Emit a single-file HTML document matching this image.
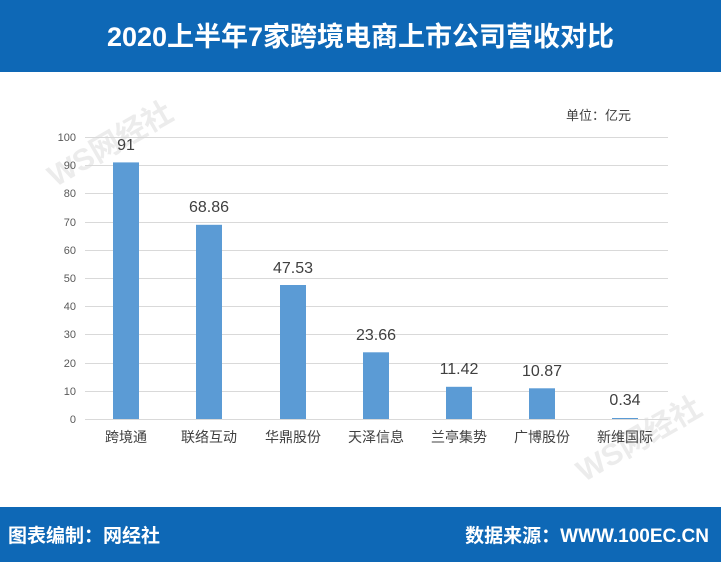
<!DOCTYPE html>
<html><head><meta charset="utf-8"><style>
body{margin:0;width:721px;height:562px;overflow:hidden;background:#fff;font-family:"Liberation Sans","Noto Sans CJK SC",sans-serif;position:relative}
.top{position:absolute;left:0;top:0;width:721px;height:72px;background:#0e68b6;color:#fff;font-weight:bold;font-size:27px;text-align:center;line-height:74px}
.bot{position:absolute;left:0;top:507px;width:721px;height:55px;background:#0e68b6;color:#fff;font-weight:bold;font-size:19px}
</style></head><body>
<div class="top">2020上半年7家跨境电商上市公司营收对比</div>
<svg width="721" height="562" style="position:absolute;left:0;top:0">
<g fill="#ececec" font-weight="bold" font-size="30" transform="rotate(-30 80 150)"><text x="40" y="170">WS网经社</text></g>
<g fill="#ececec" font-weight="bold" font-size="30" transform="rotate(-30 600 450)"><text x="570" y="470">WS网经社</text></g>
<g stroke="#d9d9d9" stroke-width="1">
<line x1="85" x2="668" y1="137.5" y2="137.5"/><line x1="85" x2="668" y1="165.5" y2="165.5"/><line x1="85" x2="668" y1="193.5" y2="193.5"/><line x1="85" x2="668" y1="222.5" y2="222.5"/><line x1="85" x2="668" y1="250.5" y2="250.5"/><line x1="85" x2="668" y1="278.5" y2="278.5"/><line x1="85" x2="668" y1="306.5" y2="306.5"/><line x1="85" x2="668" y1="334.5" y2="334.5"/><line x1="85" x2="668" y1="363.5" y2="363.5"/><line x1="85" x2="668" y1="391.5" y2="391.5"/><line x1="85" x2="668" y1="419.5" y2="419.5"/>
</g>
<g font-size="11" fill="#595959" text-anchor="end">
<text x="76" y="141">100</text><text x="76" y="169">90</text><text x="76" y="197">80</text><text x="76" y="226">70</text><text x="76" y="254">60</text><text x="76" y="282">50</text><text x="76" y="310">40</text><text x="76" y="338">30</text><text x="76" y="367">20</text><text x="76" y="395">10</text><text x="76" y="423">0</text>
</g>
<g fill="#5b9bd5">
<rect x="113" y="162.4" width="26" height="256.6"/>
<rect x="196" y="224.8" width="26" height="194.2"/>
<rect x="280" y="285" width="26" height="134"/>
<rect x="363" y="352.3" width="26" height="66.7"/>
<rect x="446" y="386.8" width="26" height="32.2"/>
<rect x="529" y="388.3" width="26" height="30.7"/>
<rect x="612" y="418" width="26" height="1"/>
</g>
<g font-size="16" fill="#404040" text-anchor="middle">
<text x="126" y="150">91</text><text x="209" y="212">68.86</text><text x="293" y="273">47.53</text><text x="376" y="340">23.66</text><text x="459" y="374">11.42</text><text x="542" y="376">10.87</text><text x="625" y="405">0.34</text>
</g>
<g font-size="14" fill="#404040" text-anchor="middle">
<text x="126" y="442">跨境通</text><text x="209" y="442">联络互动</text><text x="293" y="442">华鼎股份</text><text x="376" y="442">天泽信息</text><text x="459" y="442">兰亭集势</text><text x="542" y="442">广博股份</text><text x="625" y="442">新维国际</text>
</g>
<text x="566" y="120" font-size="13" fill="#404040">单位：亿元</text>
</svg>
<div class="bot"><span style="position:absolute;left:8px;top:14px">图表编制：网经社</span><span style="position:absolute;right:12px;top:14px">数据来源：WWW.100EC.CN</span></div>
</body></html>
